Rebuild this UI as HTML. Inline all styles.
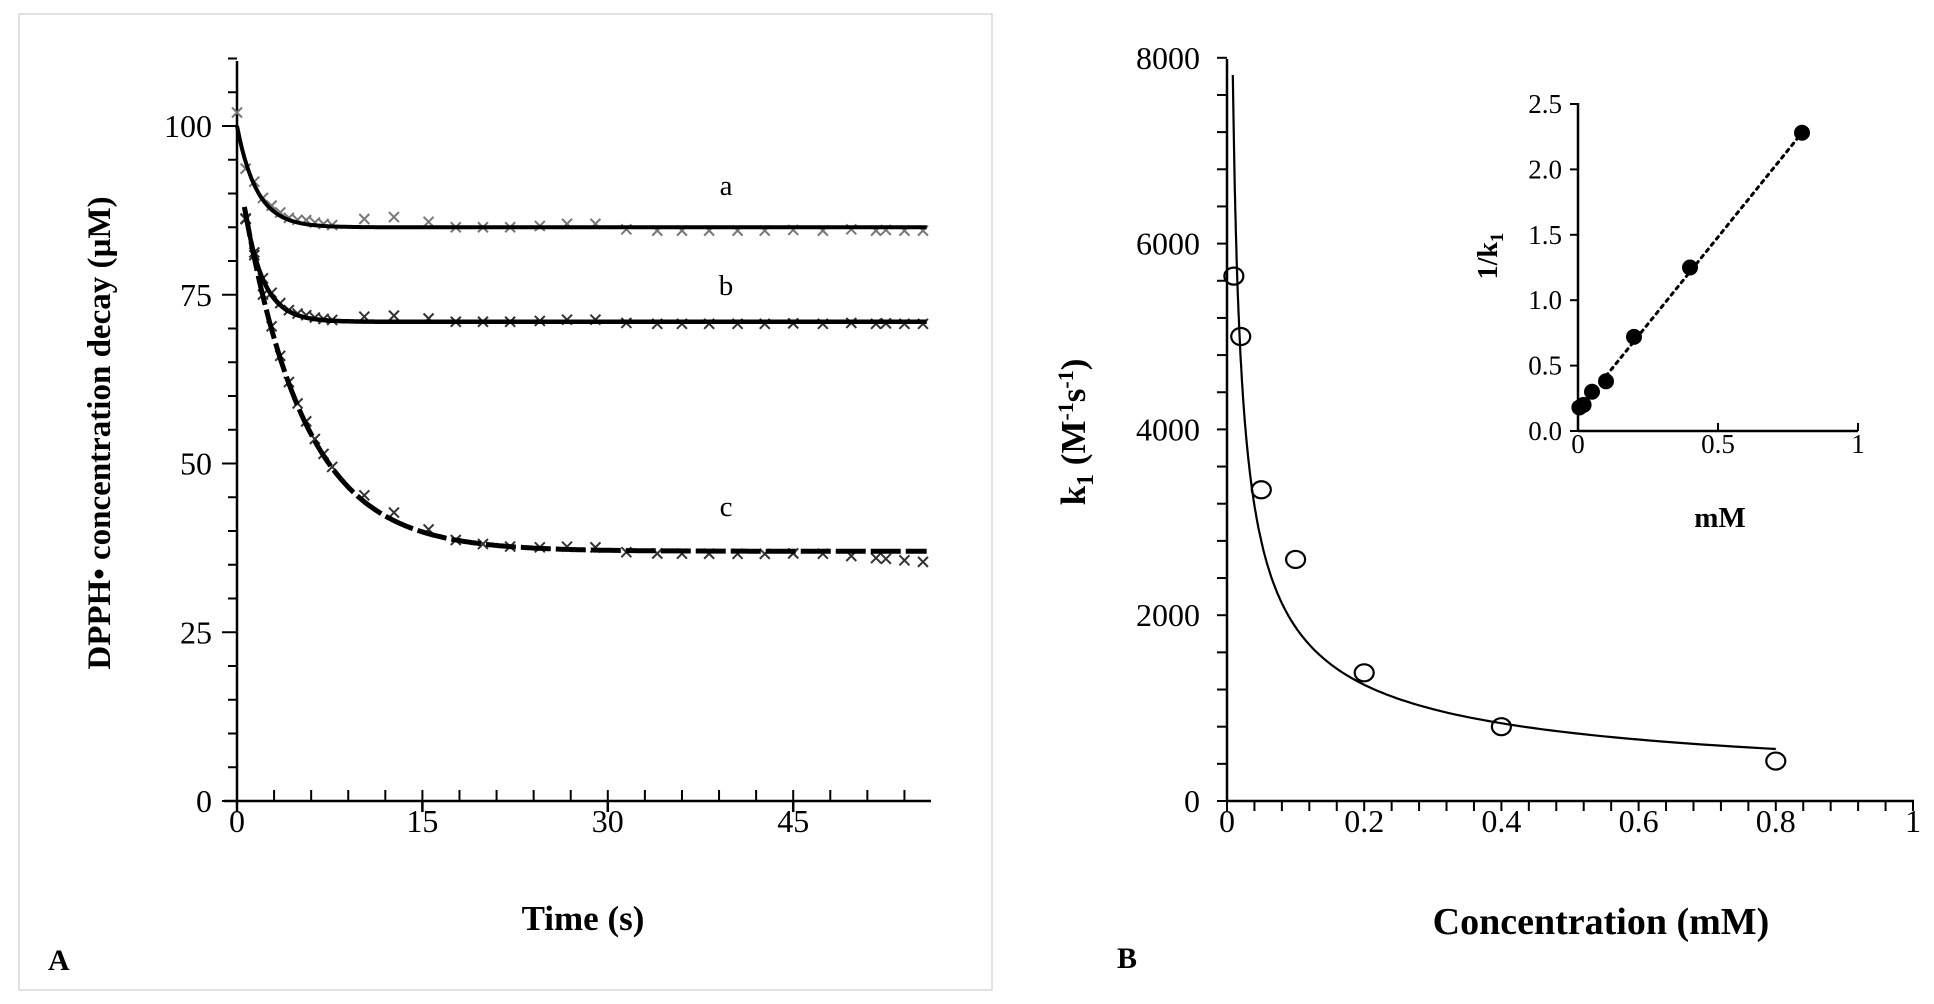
<!DOCTYPE html>
<html><head><meta charset="utf-8"><style>
body{margin:0;background:#fff}
svg{display:block}
text{font-family:"Liberation Serif",serif;fill:#000}
.b{font-weight:bold}
</style></head><body>
<svg id="s" width="1934" height="1004" xmlns="http://www.w3.org/2000/svg">
<rect x="19" y="14" width="973" height="976" fill="none" stroke="#d8d8d8" stroke-width="1.5"/>
<g id="g"></g>
<text x="48" y="970" font-size="30" class="b">A</text>
<text x="1117" y="968" font-size="30" class="b">B</text>
<text x="583" y="930" font-size="35" class="b" text-anchor="middle">Time (s)</text>
<text transform="translate(110,433) rotate(-90)" font-size="33" class="b" text-anchor="middle">DPPH• concentration decay (µM)</text>
<text x="1601" y="934" font-size="38" class="b" text-anchor="middle">Concentration (mM)</text>
<text transform="translate(1085,432) rotate(-90)" font-size="35" class="b" text-anchor="middle">k<tspan font-size="24" dy="8">1</tspan><tspan dy="-8"> (M</tspan><tspan font-size="22" dy="-12">-1</tspan><tspan dy="12">s</tspan><tspan font-size="22" dy="-12">-1</tspan><tspan dy="12">)</tspan></text>
<text transform="translate(1497,256) rotate(-90)" font-size="28" class="b" text-anchor="middle">1/k<tspan font-size="19" dy="6">1</tspan></text>
<text x="1720" y="527" font-size="29" class="b" text-anchor="middle">mM</text>
</svg>
<script>
var g=document.getElementById('g'),h='';
function L(a,b,c,d,w,e){h+='<line x1="'+a+'" y1="'+b+'" x2="'+c+'" y2="'+d+'" stroke="#000" stroke-width="'+(w||2.5)+'" '+(e||'')+'/>';}
function T(x,y,s,fs,an){h+='<text x="'+x+'" y="'+y+'" font-size="'+fs+'" text-anchor="'+(an||'middle')+'">'+s+'</text>';}
function P(pts,w,e){h+='<polyline fill="none" stroke="#000" stroke-width="'+w+'" points="'+pts.join(' ')+'" '+(e||'')+'/>';}
// Panel A
var X=function(t){return 237+t*12.36},Y=function(v){return 801-v*6.75};
L(237,61,237,802);L(224,801,931,801);
for(var v=0;v<=110;v+=5){L(v%25?228:222,Y(v),237,Y(v),2);}
for(v=0;v<=100;v+=25)T(212,Y(v)+11,v,32,'end');
for(var t=0;t<=56;t+=3)L(X(t),801,X(t),790,2);
for(t=0;t<=45;t+=15){L(X(t),801,X(t),812,2.5);T(X(t),832,t,32);}
var ts=[0,0.7,1.4,2.1,2.8,3.5,4.2,4.9,5.6,6.3,7,7.7,10.3,12.7,15.5,17.7,19.9,22.1,24.5,26.7,29,31.5,34,36,38.2,40.5,42.7,45,47.4,49.7,51.7,52.5,54,55.5];
function fa(t){return 85+15*Math.exp(-t/1.6)}
function fb(t){return 71+17*Math.exp(-(t-0.6)/1.5)}
function fc(t){return 37+51*Math.exp(-(t-0.6)/5)}
function mk(x,y,c){var s=5;h+='<path d="M'+(x-s)+' '+(y-s)+'L'+(x+s)+' '+(y+s)+'M'+(x-s)+' '+(y+s)+'L'+(x+s)+' '+(y-s)+'" stroke="'+c+'" stroke-width="2"/>';}
var na=[2,-1,0.5,0.3,0.6,0.5,0.3,0.4,0.6,0.4,0.3,0.2,1.2,1.5,0.8,0,0,0,0.2,0.5,0.5,-0.3,-0.5,-0.5,-0.5,-0.5,-0.5,-0.4,-0.5,-0.3,-0.5,-0.4,-0.5,-0.5];
var pa=[],pb=[],pc=[];
for(t=0;t<=56;t+=0.2){pa.push(X(t).toFixed(1)+','+Y(fa(t)).toFixed(1));if(t>=0.6){pb.push(X(t).toFixed(1)+','+Y(fb(t)).toFixed(1));pc.push(X(t).toFixed(1)+','+Y(fc(t)).toFixed(1));}}
ts.forEach(function(t,i){mk(X(t),Y(fa(t)+na[i]),'#777');});
ts.forEach(function(t,i){if(t>=0.6)mk(X(t),Y(fb(t)+na[i]*0.6),'#333');});
ts.forEach(function(t,i){if(t>=0.6)mk(X(t),Y(fc(t)+(t>45?-(t-45)*0.15:na[i]*0.8)),'#333');});
P(pa,4);P(pb,4.5);P(pc,5,'stroke-dasharray="30,5"');
T(726,195,'a',29);T(726,295,'b',29);T(726,516,'c',29);
// Panel B
var BX=function(c){return 1227+c*686},BY=function(k){return 801-k*0.0929};
L(1227,59,1227,802);L(1227,801,1914,801);
for(var k=0;k<=8000;k+=400)L(1217,BY(k),1227,BY(k),2);
for(k=0;k<=8000;k+=2000)T(1200,BY(k)+11,k,32,'end');
for(var c=0;c<=1.0001;c+=0.04)L(BX(c),801,BX(c),811,2);
['0','0.2','0.4','0.6','0.8','1'].forEach(function(s,i){T(BX(i*0.2),832,s,32);});
var pk=[];for(c=0.0085;c<=0.8;c*=1.03)pk.push(BX(c).toFixed(1)+','+BY(560*Math.pow(c/0.8,-0.58)).toFixed(1));
pk.push(BX(0.8)+','+BY(560));P(pk,2.2);
[[0.01,5650],[0.02,5000],[0.05,3350],[0.1,2600],[0.2,1380],[0.4,800],[0.8,430]].forEach(function(p){h+='<ellipse cx="'+BX(p[0])+'" cy="'+BY(p[1])+'" rx="9.5" ry="8.5" fill="none" stroke="#000" stroke-width="2.2"/>';});
// Inset
var IX=function(c){return 1578+c*280},IY=function(v){return 431-v*130.8};
L(1578,103,1578,432,2.5);L(1578,431,1858,431,2.5);
for(v=0;v<=2.5;v+=0.5){L(1570,IY(v),1578,IY(v),2);T(1562,IY(v)+9,v.toFixed(1),27,'end');}
[0,0.5,1].forEach(function(c){L(IX(c),431,IX(c),423,2);T(IX(c),453,c,27);});
L(IX(0.1),IY(0.42),IX(0.8),IY(2.28),3,'stroke-dasharray="3,5" stroke-linecap="round"');
[[0.005,0.18],[0.02,0.2],[0.05,0.3],[0.1,0.38],[0.2,0.72],[0.4,1.25],[0.8,2.28]].forEach(function(p){h+='<circle cx="'+IX(p[0])+'" cy="'+IY(p[1])+'" r="8" fill="#000"/>';});
g.innerHTML=h;
</script>
</body></html>
